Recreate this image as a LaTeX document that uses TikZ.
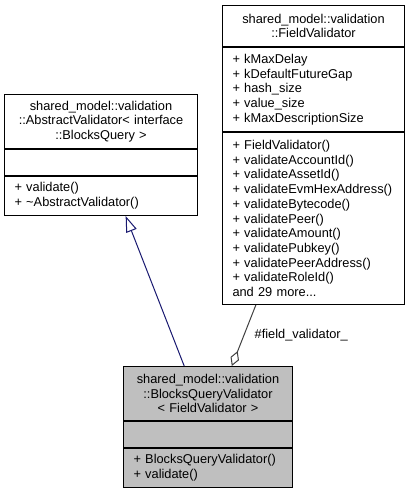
\documentclass[tikz,border=0pt]{standalone}
\usepackage{fontspec}
\setmainfont{Liberation Sans}
\usetikzlibrary{arrows.meta,calc,positioning}
\newcommand\umlfont{\fontsize{12.8}{14.7}\selectfont}
\definecolor{inhblue}{HTML}{191970}
\definecolor{aggrey}{HTML}{404040}
\definecolor{clsfill}{HTML}{BFBFBF}
\tikzset{
  part/.style={draw=black, line width=1pt, anchor=north west, inner xsep=10pt, inner ysep=0pt, font=\umlfont},
  headpart/.style={part, align=center},
  listpart/.style={part, align=left},
}
\begin{document}
\begin{tikzpicture}[x=1pt,y=-1pt]
\useasboundingbox (0,0) rectangle (413,492);
% field validator
\node[headpart, text width=162pt, minimum height=41pt] (fvHead) at (222,5) {shared\_model::validation\\::FieldValidator};
\node[listpart, text width=162pt, minimum height=84pt] (fvAttr) at (fvHead.south west) {+ kMaxDelay\\+ kDefaultFutureGap\\+ hash\_size\\+ value\_size\\+ kMaxDescriptionSize};
\node[listpart, text width=162pt, minimum height=172pt] (fvOps) at (fvAttr.south west) {+ FieldValidator()\\+ validateAccountId()\\+ validateAssetId()\\+ validateEvmHexAddress()\\+ validateBytecode()\\+ validatePeer()\\+ validateAmount()\\+ validatePubkey()\\+ validatePeerAddress()\\+ validateRoleId()\\and 29 more...};
% abstract validator
\node[headpart, text width=173pt, minimum height=54pt] (avHead) at (4,94) {shared\_model::validation\\::AbstractValidator< interface\\::BlocksQuery >};
\node[listpart, minimum width=193pt, minimum height=26pt] (avAttr) at (avHead.south west) {};
\node[listpart, text width=173pt, minimum height=39pt] (avOps) at (avAttr.south west) {+ validate()\\+ \textasciitilde AbstractValidator()};
% blocks query validator
\node[headpart, fill=clsfill, text width=149pt, minimum height=54pt] (bqHead) at (123,366) {shared\_model::validation\\::BlocksQueryValidator\\< FieldValidator >};
\node[listpart, fill=clsfill, minimum width=169pt, minimum height=26pt] (bqAttr) at (bqHead.south west) {};
\node[listpart, fill=clsfill, text width=149pt, minimum height=39pt] (bqOps) at (bqAttr.south west) {+ BlocksQueryValidator()\\+ validate()};
% edges
\draw[inhblue, line width=1pt, -{Triangle[open, length=16pt, width=11pt]}] ($(bqHead.north west)!0.36!(bqHead.north east)$) -- ($(avOps.south west)!0.627!(avOps.south east)$);
\draw[aggrey, line width=1pt, {Diamond[open, length=16pt, width=9pt]}-] ($(bqHead.north west)!0.64!(bqHead.north east)$) -- node[right=7pt, font=\umlfont, text=black] (fvLabel) {\#field\_validator\_} ($(fvOps.south west)!0.185!(fvOps.south east)$);
\end{tikzpicture}
\end{document}
